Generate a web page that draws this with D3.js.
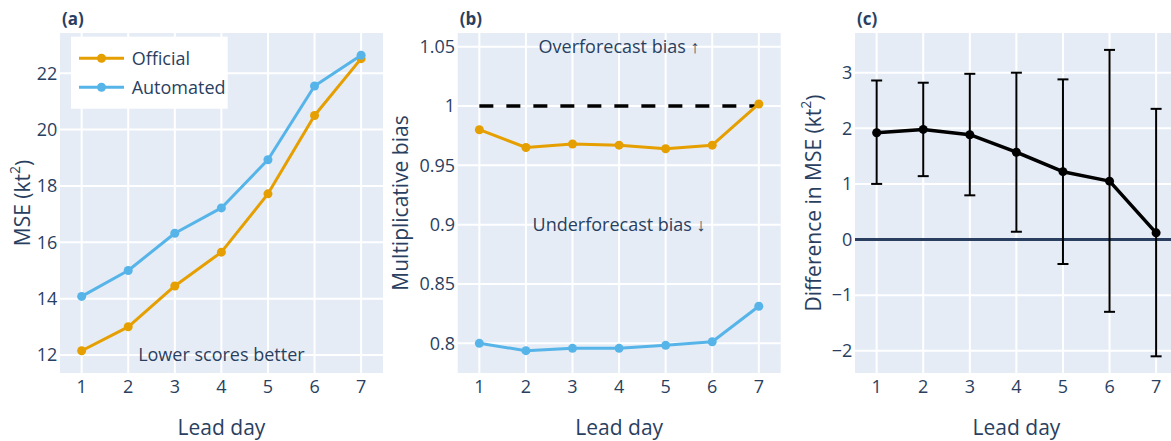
<!DOCTYPE html>
<html><head><meta charset="utf-8">
<script src="https://cdn.jsdelivr.net/npm/d3@7"></script>
<style>
html,body{margin:0;padding:0;background:#fff;overflow:hidden}
text{font-family:"Open Sans",sans-serif;fill:#2a3f5f}
</style></head>
<body><svg id="chart" width="1171" height="441"></svg>
<script>
const leadDays = [1, 2, 3, 4, 5, 6, 7];
const mseOfficial = [12.15, 13.0, 14.45, 15.65, 17.72, 20.5, 22.52];
const mseAutomated = [14.08, 15.0, 16.32, 17.22, 18.93, 21.55, 22.64];
const biasOfficial = [0.980, 0.965, 0.968, 0.967, 0.964, 0.967, 1.0017];
const biasAutomated = [0.800, 0.7938, 0.7958, 0.7958, 0.7983, 0.8013, 0.8312];
const diffMSE = [1.92, 1.98, 1.885, 1.57, 1.22, 1.05, 0.12];
const diffUpper = [2.86, 2.82, 2.98, 3.0, 2.88, 3.41, 2.35];
const diffLower = [1.0, 1.14, 0.795, 0.14, -0.44, -1.30, -2.10];
const ticksA = [12, 14, 16, 18, 20, 22];
const ticksB = [0.8, 0.85, 0.9, 0.95, 1, 1.05];
const ticksC = [-2, -1, 0, 1, 2, 3];
const seriesNames = ["Official", "Automated"];
const colors = {Official: "#E69F00", Automated: "#56B4E9"};

const svg = d3.select("#chart");
const plotTop = 33, plotBottom = 373, pw = 323;
const xDomain = [0.535, 7.47];

function panel(left, yDomain, yTicks, fmt, label) {
  const g = svg.append("g");
  const x = d3.scaleLinear().domain(xDomain).range([left, left + pw]);
  const y = d3.scaleLinear().domain(yDomain).range([plotBottom, plotTop]);
  const clipId = "clip" + label.replace(/\W/g, "");
  svg.append("clipPath").attr("id", clipId).append("rect")
    .attr("x", left).attr("y", plotTop).attr("width", pw).attr("height", plotBottom - plotTop);
  g.append("rect").attr("x", left).attr("y", plotTop).attr("width", pw).attr("height", plotBottom - plotTop).attr("fill", "#E5ECF6");
  g.selectAll(".gx").data(leadDays).join("line")
    .attr("x1", d => x(d)).attr("x2", d => x(d)).attr("y1", plotTop).attr("y2", plotBottom)
    .attr("stroke", "#fff").attr("stroke-width", 2);
  g.selectAll(".gy").data(yTicks).join("line")
    .attr("x1", left).attr("x2", left + pw).attr("y1", d => y(d)).attr("y2", d => y(d))
    .attr("stroke", "#fff").attr("stroke-width", 2);
  g.selectAll(".tx").data(leadDays).join("text")
    .attr("x", d => x(d)).attr("y", 393).attr("text-anchor", "middle")
    .attr("font-size", 18).text(d => d);
  g.selectAll(".ty").data(yTicks).join("text")
    .attr("x", left - 2.7).attr("y", d => y(d)).attr("dy", "0.35em").attr("text-anchor", "end")
    .attr("font-size", 18).text(fmt);
  g.append("text").attr("x", left + pw / 2).attr("y", 435).attr("text-anchor", "middle")
    .attr("font-size", 21).text("Lead day");
  g.append("text").attr("x", left + 2).attr("y", 25).attr("font-size", 17)
    .attr("font-weight", "bold").text(label);
  return {g, x, y, clipId};
}

function yTitle(cx, text, sup) {
  const t = svg.append("text").attr("transform", `translate(${cx},203) rotate(-90)`)
    .attr("text-anchor", "middle").attr("dominant-baseline", "central").attr("font-size", 21);
  if (sup) {
    t.append("tspan").text(text);
    t.append("tspan").attr("font-size", 14).attr("dy", "-0.55em").text("2");
    t.append("tspan").attr("dy", "0.4em").text(")");
  } else t.text(text);
}

function drawSeries(p, vals, color, width, r) {
  const line = d3.line().x((d, i) => p.x(leadDays[i])).y(d => p.y(d));
  const gg = p.g.append("g").attr("clip-path", `url(#${p.clipId})`);
  gg.append("path").datum(vals).attr("d", line).attr("fill", "none")
    .attr("stroke", color).attr("stroke-width", width).attr("stroke-linejoin", "round");
  gg.selectAll("circle.m").data(vals).join("circle")
    .attr("cx", (d, i) => p.x(leadDays[i])).attr("cy", d => p.y(d)).attr("r", r).attr("fill", color);
}

// Panel (a)
const pa = panel(60, [11.36, 23.43], ticksA, d => d, "(a)");
yTitle(22, "MSE (kt", true);
drawSeries(pa, mseOfficial, colors.Official, 3, 4.5);
drawSeries(pa, mseAutomated, colors.Automated, 3, 4.5);
pa.g.append("text").attr("x", pa.x(4)).attr("y", pa.y(12)).attr("dy", "0.35em")
  .attr("text-anchor", "middle").attr("font-size", 18).text("Lower scores better");
// legend
const lg = pa.g.append("g");
lg.append("rect").attr("x", 71).attr("y", 36.7).attr("width", 156.7).attr("height", 72).attr("fill", "#fff");
seriesNames.forEach((n, i) => {
  const yy = 58.3 + i * 29;
  lg.append("line").attr("x1", 79).attr("x2", 124).attr("y1", yy).attr("y2", yy)
    .attr("stroke", colors[n]).attr("stroke-width", 3);
  lg.append("circle").attr("cx", 101.5).attr("cy", yy).attr("r", 4.5).attr("fill", colors[n]);
  lg.append("text").attr("x", 131.7).attr("y", yy).attr("dy", "0.35em").attr("font-size", 18).text(n);
});

// Panel (b)
const pb = panel(457.7, [0.775, 1.0615], ticksB, d => d3.format("~g")(d), "(b)");
yTitle(400, "Multiplicative bias", false);
pb.g.append("line").attr("x1", pb.x(1)).attr("x2", pb.x(7)).attr("y1", pb.y(1)).attr("y2", pb.y(1))
  .attr("stroke", "#000").attr("stroke-width", 3.5).attr("stroke-dasharray", "14,13");
drawSeries(pb, biasOfficial, colors.Official, 3, 4.5);
drawSeries(pb, biasAutomated, colors.Automated, 3, 4.5);
pb.g.append("text").attr("x", pb.x(4)).attr("y", pb.y(1.05)).attr("dy", "0.35em")
  .attr("text-anchor", "middle").attr("font-size", 18).text("Overforecast bias \u2191");
pb.g.append("text").attr("x", pb.x(4)).attr("y", pb.y(0.9)).attr("dy", "0.35em")
  .attr("text-anchor", "middle").attr("font-size", 18).text("Underforecast bias \u2193");

// Panel (c)
const pc = panel(855, [-2.40, 3.714], ticksC, d => d < 0 ? "\u2212" + Math.abs(d) : d, "(c)");
yTitle(813, "Difference in MSE (kt", true);
pc.g.append("line").attr("x1", 855).attr("x2", 855 + pw).attr("y1", pc.y(0)).attr("y2", pc.y(0))
  .attr("stroke", "#2a3f5f").attr("stroke-width", 3);
const eb = pc.g.append("g").attr("stroke", "#000").attr("stroke-width", 2);
leadDays.forEach((d, i) => {
  const xx = pc.x(d);
  eb.append("line").attr("x1", xx).attr("x2", xx).attr("y1", pc.y(diffUpper[i])).attr("y2", pc.y(diffLower[i]));
  eb.append("line").attr("x1", xx - 5.5).attr("x2", xx + 5.5).attr("y1", pc.y(diffUpper[i])).attr("y2", pc.y(diffUpper[i]));
  eb.append("line").attr("x1", xx - 5.5).attr("x2", xx + 5.5).attr("y1", pc.y(diffLower[i])).attr("y2", pc.y(diffLower[i]));
});
drawSeries(pc, diffMSE, "#000", 3.5, 4.5);
</script></body></html>
